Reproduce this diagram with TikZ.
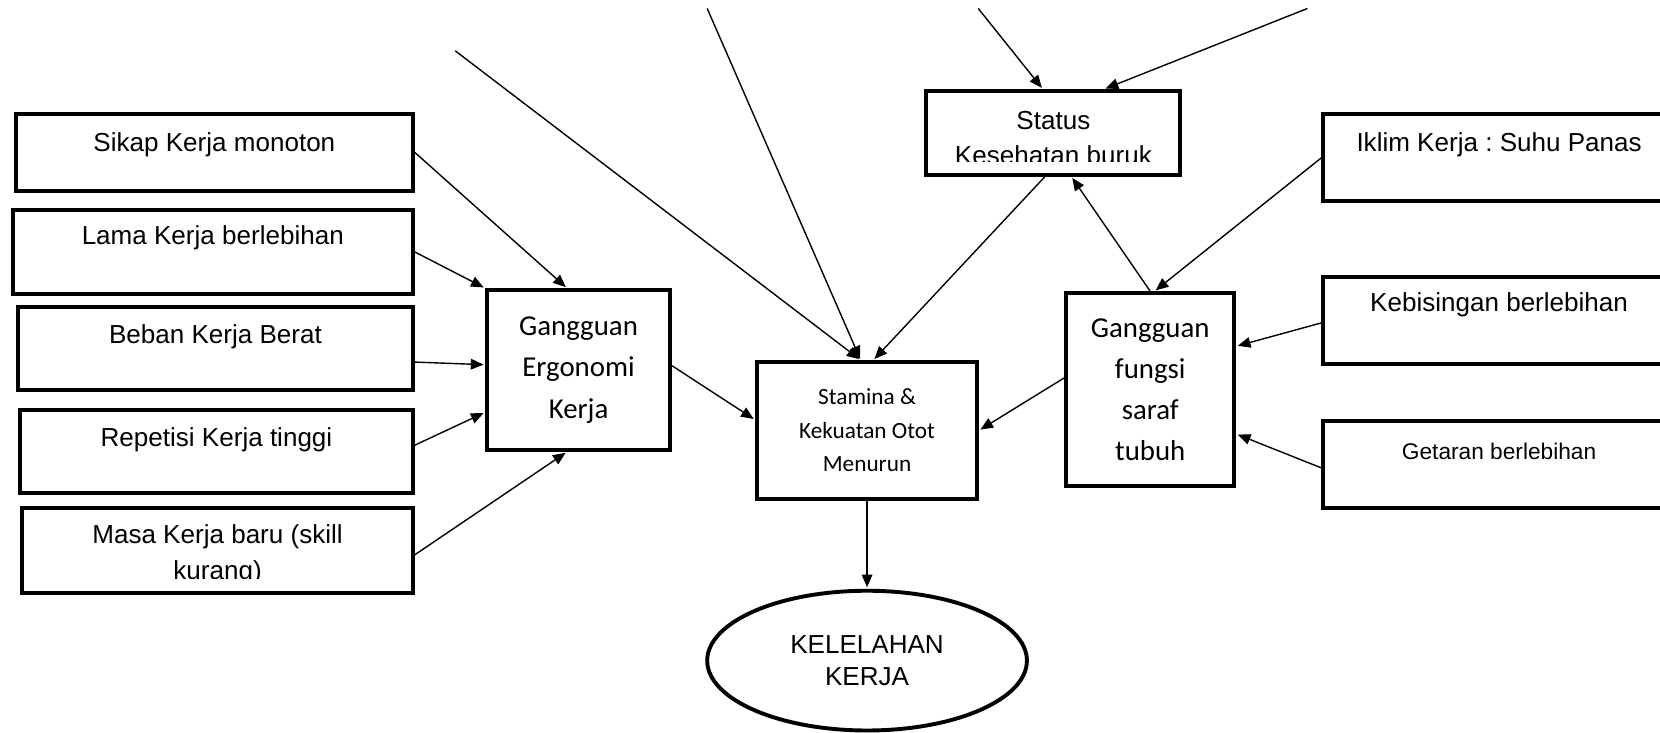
\documentclass[tikz,border=0pt]{standalone}
\usepackage{fontspec}
\setmainfont{Liberation Sans}
\newfontfamily\carlitoFont{Carlito}
\usetikzlibrary{positioning,calc,arrows.meta,shapes.geometric}
\frenchspacing

\tikzset{
  factorBox/.style={draw=black, line width=2.1pt, fill=white, inner sep=0pt},
  factorText/.style={inner sep=0pt, align=center, font=\fontsize{14}{19}\selectfont},
  smallText/.style={inner sep=0pt, align=center, font=\fontsize{12.2}{17}\selectfont},
  midBox/.style={draw=black, line width=2.1pt, fill=white, inner sep=0pt, align=center},
  linkArrow/.style={line width=0.75pt, shorten >=0.8pt, -{Triangle[length=2.4mm,width=2mm]}},
}

\begin{document}
\begin{tikzpicture}[x=0.2mm, y=-0.2mm]

\def\leftR{390}    % right edge of the left factor boxes
\def\rightL{1250}  % left edge of the right factor boxes
\def\rightR{1582}  % (runs past the page edge)

\useasboundingbox (0,0) rectangle (1568,692);
\clip (0,0) rectangle (1568,692);
\fill[white] (0,0) rectangle (1568,692);

% --- LEFT FACTOR BOXES ---
\foreach \nm/\xl/\yt/\yb/\dy/\txt in {sikap/15/108/180/-7/Sikap Kerja monoton,
                                       lama/12/198/278/-13/Lama Kerja berlebihan,
                                       beban/17/290/368/-11/Beban Kerja Berat,
                                       repetisi/19/387/466/-11/Repetisi Kerja tinggi} {
  \pgfmathsetmacro\bw{(\leftR-\xl)*0.2}
  \pgfmathsetmacro\bh{(\yb-\yt)*0.2}
  \node[factorBox, minimum width=\bw mm, minimum height=\bh mm]
    (\nm) at ({(\xl+\leftR)/2}, {(\yt+\yb)/2}) {};
  \node[factorText] (\nm Txt) at ($(\nm.center)+(0,\dy)$) {\txt};
}

% last one: text runs out of the box and gets cut
\node[factorBox, minimum width=73.8mm, minimum height=16mm]
  (masa) at ({(21+\leftR)/2}, 520) {};
\begin{scope}
  \clip ($(masa.north west)+(4,4)$) rectangle ($(masa.south east)+(-4,-15)$);
  \node[factorText] (masaTxt) at ($(masa.center)+(0,4)$) {Masa Kerja baru (skill\\kurang)};
\end{scope}

% --- RIGHT FACTOR BOXES ---
\foreach \nm/\yt/\yb/\dy/\sty/\txt in {iklim/108/190/-12/factorText/Iklim Kerja : Suhu Panas,
                                       kebisingan/262/344/-15/factorText/Kebisingan berlebihan,
                                       getaran/398/480/-13/smallText/Getaran berlebihan} {
  \pgfmathsetmacro\bw{(\rightR-\rightL)*0.2}
  \pgfmathsetmacro\bh{(\yb-\yt)*0.2}
  \node[factorBox, minimum width=\bw mm, minimum height=\bh mm]
    (\nm) at ({(\rightL+\rightR)/2}, {(\yt+\yb)/2}) {};
  \node[\sty] (\nm Txt) at ($(\nm.center)+(0,\dy)$) {\txt};
}

% --- MIDDLE BOXES ---
\node[midBox, minimum width=34.6mm, minimum height=30.2mm,
      font=\carlitoFont\fontsize{15.5}{22.5}\selectfont]
  (ergo) at (546.5,349.5) {Gangguan\\Ergonomi\\Kerja};

\node[midBox, minimum width=41.6mm, minimum height=25.8mm,
      font=\carlitoFont\fontsize{12.5}{18}\selectfont]
  (stamina) at (819,406.5) {Stamina \&\\Kekuatan Otot\\Menurun};

\node[midBox, minimum width=31.8mm, minimum height=36.4mm,
      font=\carlitoFont\fontsize{15.5}{22.1}\selectfont]
  (fungsi) at (1086.5,368) {Gangguan\\fungsi\\saraf\\tubuh};

\node[factorBox, minimum width=48mm, minimum height=15.8mm]
  (status) at (995,125.5) {};
\begin{scope}
  \clip ($(status.north west)+(4,4)$) rectangle ($(status.south east)+(-4,-14)$);
  \node[factorText] (statusTxt) at ($(status.center)+(0,5)$) {Status\\Kesehatan buruk};
\end{scope}

% --- OUTCOME ---
\node[draw=black, ellipse, line width=2.1pt, fill=white, inner sep=0pt,
      minimum width=60.4mm, minimum height=26.4mm, align=center,
      font=\fontsize{14}{17}\selectfont]
  (kelelahan) at (819,624) {KELELAHAN\\KERJA};

% --- loose ends at the top ---
\coordinate (srcA) at (430,48);
\coordinate (srcB) at (668,8);
\coordinate (srcC) at (924,8);
\coordinate (srcD) at (1235,8);

% --- CONNECTORS ---
\draw[linkArrow] (sikap.east) -- ($(ergo.north)+(-11,0)$);
\draw[linkArrow] (lama.east) -- (ergo.north west);
\draw[linkArrow] ($(beban.east)+(0,13)$) -- ($(ergo.west)+(0,-5)$);
\draw[linkArrow] ($(repetisi.east)+(0,-6)$) -- ($(ergo.west)+(0,40)$);
\draw[linkArrow] ($(masa.east)+(0,4)$) -- ($(ergo.south)+(-11,0)$);
\draw[linkArrow] ($(ergo.east)+(0,-4)$) -- ($(stamina.west)+(0,-10)$);

\draw[linkArrow] (srcA) -- ($(stamina.north)+(-6,0)$);
\draw[linkArrow] (srcB) -- ($(stamina.north)+(-6,0)$);
\draw[linkArrow] ($(status.south)+(-8,0)$) -- ($(stamina.north)+(6,0)$);
\draw[linkArrow] (srcC) -- ($(status.north)+(-10,0)$);
\draw[linkArrow] (srcD) -- ($(status.north)+(48,0)$);
\draw[linkArrow] (fungsi.north) -- ($(status.south)+(17,0)$);

\draw[linkArrow] (iklim.west) -- ($(fungsi.north)+(4,0)$);
\draw[linkArrow] ($(kebisingan.west)+(0,2)$) -- ($(fungsi.east)+(0,-41)$);
\draw[linkArrow] ($(getaran.west)+(0,3)$) -- ($(fungsi.east)+(0,42)$);
\draw[linkArrow] ($(fungsi.west)+(0,-11)$) -- (stamina.east);

\draw[linkArrow] (stamina.south) -- (kelelahan.north);

\end{tikzpicture}
\end{document}
